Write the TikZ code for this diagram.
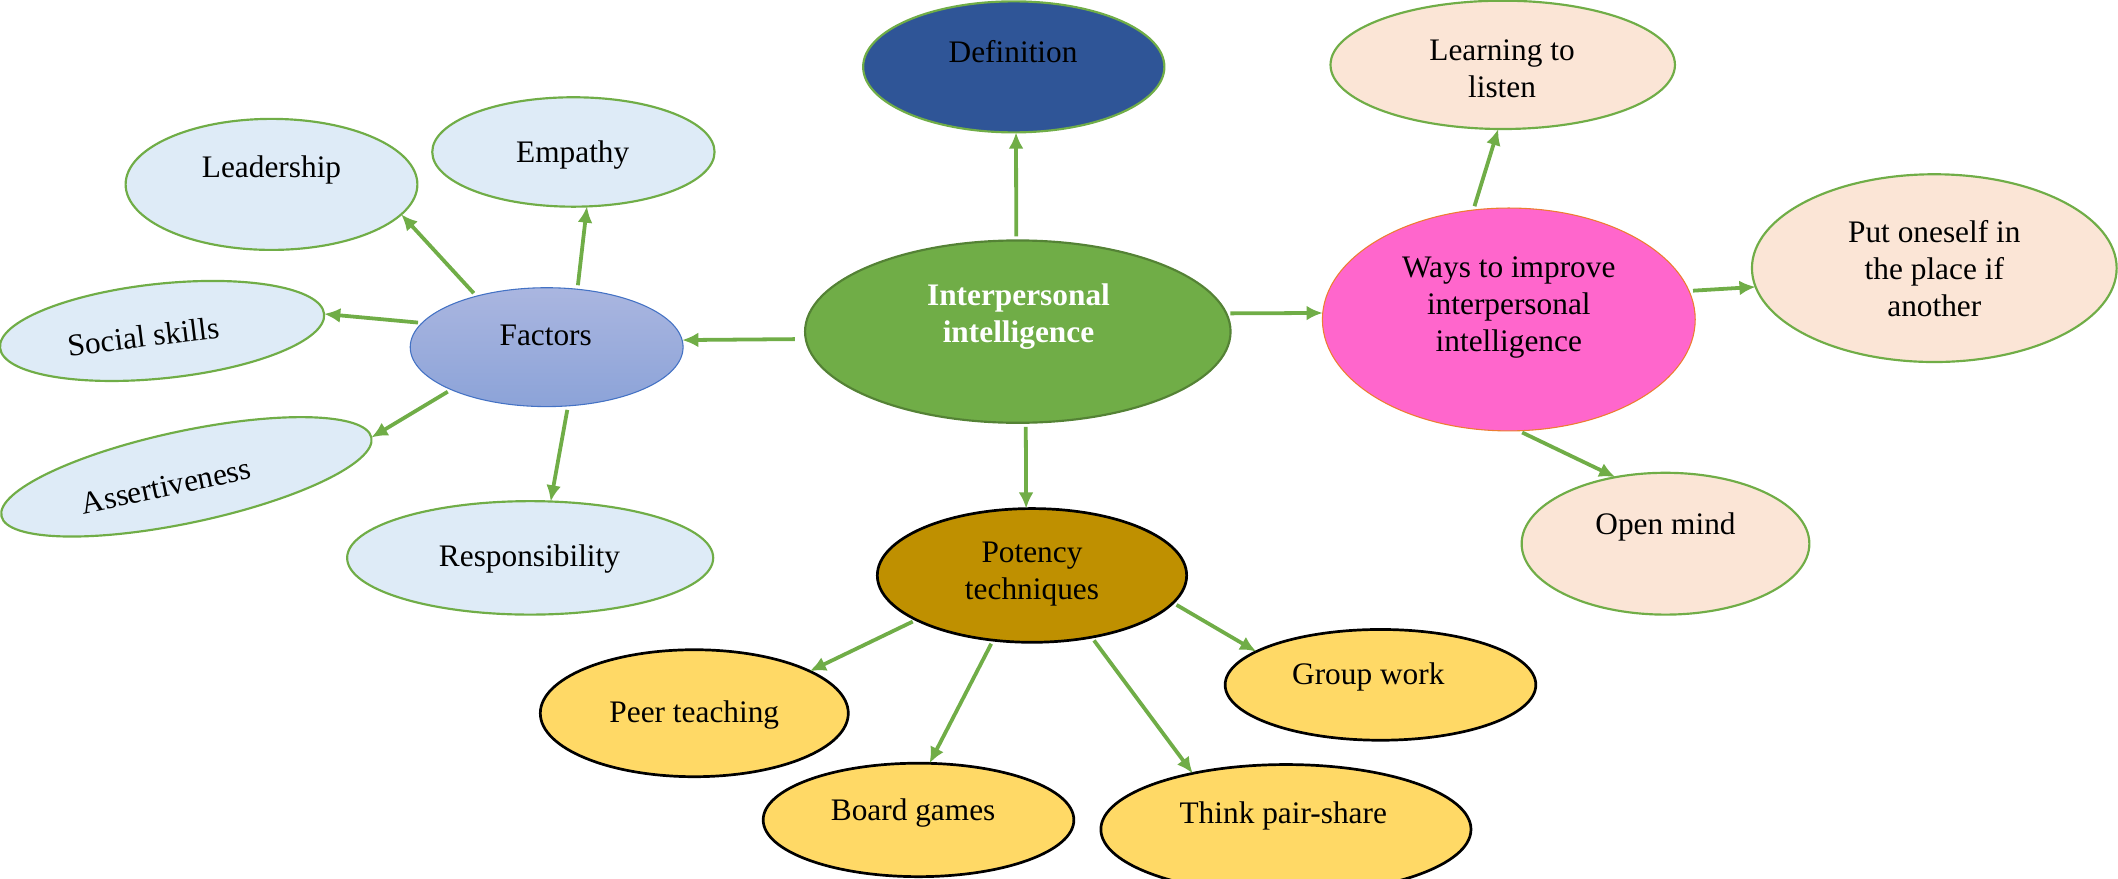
\documentclass[tikz,border=0pt]{standalone}
\usepackage{fontspec}
\setmainfont{Liberation Serif}
\usetikzlibrary{shapes.geometric,arrows.meta}

\definecolor{lgreen}{RGB}{112,173,71}
\definecolor{dgreen}{RGB}{84,130,53}
\definecolor{defblue}{RGB}{47,85,151}
\definecolor{paleblue}{RGB}{222,235,247}
\definecolor{peach}{RGB}{251,229,214}
\definecolor{wayspink}{RGB}{255,102,204}
\definecolor{waysline}{RGB}{237,125,49}
\definecolor{factop}{RGB}{170,182,224}
\definecolor{facbot}{RGB}{140,163,216}
\definecolor{facline}{RGB}{68,114,196}
\definecolor{potgold}{RGB}{191,144,0}
\definecolor{techyellow}{RGB}{255,217,102}

\tikzset{
  bubble/.style={ellipse, draw=lgreen, line width=0.8pt, inner sep=0pt, outer sep=0pt},
  tech/.style={ellipse, draw=black, line width=1pt, fill=techyellow, inner sep=0pt, outer sep=0pt},
  txt/.style={align=center, inner sep=0pt, font=\fontsize{11.6}{13.6}\selectfont},
  arr/.style={draw=lgreen, line width=1.4pt, shorten <=1.5pt, -{Latex[length=6pt,width=5.5pt]}},
}

\begin{document}
\begin{tikzpicture}[x=0.5pt,y=0.5pt,yscale=-1,xscale=1]
\useasboundingbox (0,0) rectangle (1568,650);

%Ellipses
\node[bubble, fill=defblue, minimum width=111.5pt, minimum height=48.5pt] (def) at (750.5,49.5) {};
\node[bubble, fill=peach, minimum width=127.5pt, minimum height=47.5pt] (learn) at (1112.5,48) {};
\node[bubble, fill=paleblue, minimum width=108pt, minimum height=48.5pt] (lead) at (201,136.5) {};
\node[bubble, fill=paleblue, minimum width=104.5pt, minimum height=40.5pt] (emp) at (424.5,112.5) {};
\node[bubble, fill=paleblue, minimum width=120.6pt, minimum height=35pt, rotate=6] (soc) at (120,245) {};
\node[ellipse, draw=facline, line width=0.4pt, inner sep=0pt, outer sep=0pt, top color=factop, bottom color=facbot, minimum width=101pt, minimum height=44pt] (fac) at (404.7,257) {};
\node[bubble, fill=paleblue, minimum width=140pt, minimum height=34pt, rotate=12] (ast) at (138,353) {};
\node[bubble, fill=paleblue, minimum width=135.5pt, minimum height=42pt] (resp) at (392.5,413) {};
\node[ellipse, draw=dgreen, fill=lgreen, line width=0.8pt, inner sep=0pt, outer sep=0pt, minimum width=157.5pt, minimum height=67.5pt] (ipi) at (753.5,245.5) {};
\node[ellipse, draw=waysline, fill=wayspink, line width=0.4pt, inner sep=0pt, outer sep=0pt, minimum width=138pt, minimum height=82.5pt] (ways) at (1117,236.5) {};
\node[bubble, fill=peach, minimum width=135pt, minimum height=69.5pt] (put) at (1432,198.5) {};
\node[bubble, fill=peach, minimum width=106.5pt, minimum height=52.5pt] (open) at (1233,402.5) {};
\node[tech, fill=potgold, minimum width=114.5pt, minimum height=49.5pt] (pot) at (764,426) {};
\node[tech, minimum width=114pt, minimum height=47pt] (peer) at (514,528) {};
\node[tech, minimum width=115pt, minimum height=42pt] (board) at (680,607) {};
\node[tech, minimum width=115pt, minimum height=41pt] (grp) at (1022,507) {};
\node[tech, minimum width=137pt, minimum height=48pt] (think) at (952,614) {};

% Text Node
\node[txt] (deftxt) at (750,38) {Definition};
% Text Node
\node[txt] (learntxt) at (1112,51) {Learning to\\listen};
% Text Node
\node[txt] (leadtxt) at (201,126) {Leadership};
% Text Node
\node[txt] (emptxt) at (424,115) {Empathy};
% Text Node
\node[txt, rotate=7] (soctxt) at (106,249) {Social skills};
% Text Node
\node[txt] (factxt) at (404,248) {Factors};
% Text Node
\node[txt, rotate=12] (asttxt) at (123,360) {Assertiveness};
% Text Node
\node[txt] (resptxt) at (392,414) {Responsibility};
% Text Node
\node[txt, text=white, font=\fontsize{11.6}{13.6}\selectfont\bfseries] (ipitxt) at (754,234.5) {Interpersonal\\intelligence};
% Text Node
\node[txt] (waystxt) at (1117,227.5) {Ways to improve\\interpersonal\\intelligence};
% Text Node
\node[txt] (puttxt) at (1432,199) {Put oneself in\\the place if\\another};
% Text Node
\node[txt] (opentxt) at (1233,390) {Open mind};
% Text Node
\node[txt] (pottxt) at (764,425) {Potency\\techniques};
% Text Node
\node[txt] (peertxt) at (514,529) {Peer teaching};
% Text Node
\node[txt] (boardtxt) at (676,602) {Board games};
% Text Node
\node[txt] (grptxt) at (1013,501) {Group work};
% Text Node
\node[txt] (thinktxt) at (950,604) {Think pair-share};

% Connection
\draw[arr] (ipi.91) -- (def.-88);
\draw[arr, shorten <=4pt] (ipi.182) -- (fac.3);
\draw[arr] (ipi.5) -- (ways.178);
\draw[arr] (ipi.-85) -- (pot.95);
% Connection
\draw[arr] (fac.144) -- (lead.-13);
\draw[arr] (fac.62) -- (emp.-76);
\draw[arr] (fac.169) -- (soc.0);
\draw[arr] (fac.204) -- (ast.0);
\draw[arr] (fac.-70) -- (resp.70);
% Connection
\draw[arr] (ways.108) -- (learn.-94);
\draw[arr] (ways.9) -- (put.186);
\draw[arr] (ways.-85) -- (open.127);
% Connection
\draw[arr] (pot.201) -- (peer.20);
\draw[arr] (pot.239) -- (board.79);
\draw[arr] (pot.-46) -- (think.149);
\draw[arr] (pot.-11) -- (grp.165);

\end{tikzpicture}
\end{document}
